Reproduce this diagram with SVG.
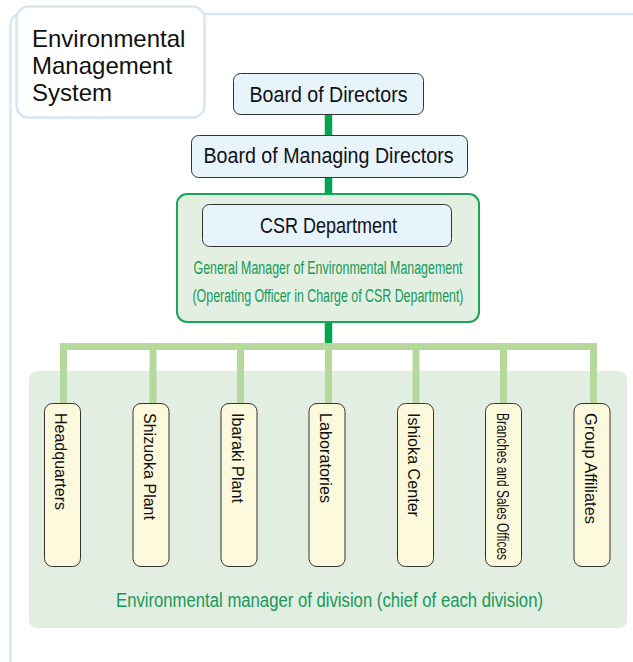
<svg xmlns="http://www.w3.org/2000/svg" width="633" height="662" viewBox="0 0 633 662">
<style>
.frame{fill:none;stroke:#d6e6f4;stroke-width:2.5}
.title{font-family:"Liberation Sans",Arial,sans-serif;font-size:24px;fill:#111}
.blue rect{fill:#e7f4fc;stroke:#333;stroke-width:1}
.lbl{font-family:"Liberation Sans",Arial,sans-serif;font-size:22px;fill:#111;text-anchor:middle}
.gtxt{font-family:"Liberation Sans",Arial,sans-serif;fill:#17995a}
.div rect{fill:#fdf9dc;stroke:#333;stroke-width:1}
.vt{font-family:"Liberation Sans",Arial,sans-serif;font-size:17px;fill:#111}
.dark{stroke:#00a651;stroke-width:7.5;fill:none}
.light{stroke:#b6d99b;stroke-width:7;fill:none}
</style>
<rect x="0" y="0" width="633" height="662" fill="#fff"/>
<path class="frame" d="M10.5,662 V26 Q10.5,14 22.5,14 H633"/>
<g id="title">
<rect x="16.5" y="6.5" width="188" height="111" rx="12" fill="#fff" stroke="#d6e6f4" stroke-width="2.5"/>
<text class="title" x="32" y="47">Environmental</text>
<text class="title" x="32" y="74">Management</text>
<text class="title" x="32" y="101">System</text>
</g>
<rect id="division-area" x="29" y="371" width="598" height="257" rx="8" fill="#e2eee1"/>
<g id="connectors">
<path class="dark" d="M328.5,114 V135 M328.5,177 V193 M328.5,322 V347"/>
<path class="light" d="M63.5,403 V346.5 H593.5 V403 M153,346.5 V403 M240.5,346.5 V403 M328.5,346.5 V403 M416,346.5 V403 M503.5,346.5 V403"/>
</g>
<g id="board" class="blue">
<rect x="233.5" y="73.5" width="190" height="41" rx="7"/>
<text class="lbl" x="328.5" y="102" textLength="158" lengthAdjust="spacingAndGlyphs">Board of Directors</text>
</g>
<g id="managing" class="blue">
<rect x="191.5" y="135.5" width="276" height="42" rx="7"/>
<text class="lbl" x="328.5" y="163" textLength="250" lengthAdjust="spacingAndGlyphs">Board of Managing Directors</text>
</g>
<g id="csr">
<rect x="177" y="194" width="302" height="128" rx="10" fill="#e3efe0" stroke="#1aa657" stroke-width="2"/>
<g class="blue"><rect x="202.5" y="204.5" width="249" height="42" rx="7"/></g>
<text class="lbl" x="328.5" y="233" textLength="137" lengthAdjust="spacingAndGlyphs">CSR Department</text>
<text class="gtxt" x="328" y="274" font-size="18" text-anchor="middle" textLength="269" lengthAdjust="spacingAndGlyphs">General Manager of Environmental Management</text>
<text class="gtxt" x="328" y="302" font-size="18" text-anchor="middle" textLength="271" lengthAdjust="spacingAndGlyphs">(Operating Officer in Charge of CSR Department)</text>
</g>
<g id="hq" class="div">
<rect x="44.5" y="403.5" width="36" height="163" rx="8"/>
<text class="vt" transform="translate(62.5,413) rotate(90)" x="0" y="7.5" textLength="97" lengthAdjust="spacingAndGlyphs">Headquarters</text>
</g>
<g id="shizuoka" class="div">
<rect x="133" y="403.5" width="36" height="163" rx="8"/>
<text class="vt" transform="translate(151,413) rotate(90)" x="0" y="7.5" textLength="107" lengthAdjust="spacingAndGlyphs">Shizuoka Plant</text>
</g>
<g id="ibaraki" class="div">
<rect x="221" y="403.5" width="36" height="163" rx="8"/>
<text class="vt" transform="translate(239,413) rotate(90)" x="0" y="7.5" textLength="90" lengthAdjust="spacingAndGlyphs">Ibaraki Plant</text>
</g>
<g id="labs" class="div">
<rect x="309" y="403.5" width="36" height="163" rx="8"/>
<text class="vt" transform="translate(327,413) rotate(90)" x="0" y="7.5" textLength="90" lengthAdjust="spacingAndGlyphs">Laboratories</text>
</g>
<g id="ishioka" class="div">
<rect x="397.5" y="403.5" width="36" height="163" rx="8"/>
<text class="vt" transform="translate(415.5,413) rotate(90)" x="0" y="7.5" textLength="104" lengthAdjust="spacingAndGlyphs">Ishioka Center</text>
</g>
<g id="branches" class="div">
<rect x="485.5" y="403.5" width="36" height="163" rx="8"/>
<text class="vt" transform="translate(503.5,413) rotate(90)" x="0" y="6.5" font-size="15.5" textLength="147" lengthAdjust="spacingAndGlyphs">Branches and Sales Offices</text>
</g>
<g id="group" class="div">
<rect x="574" y="403.5" width="36" height="163" rx="8"/>
<text class="vt" transform="translate(592,413) rotate(90)" x="0" y="7.5" textLength="111" lengthAdjust="spacingAndGlyphs">Group Affiliates</text>
</g>
<text id="division-label" class="gtxt" x="329.5" y="607" font-size="19.5" text-anchor="middle" textLength="427" lengthAdjust="spacingAndGlyphs">Environmental manager of division (chief of each division)</text>
</svg>
